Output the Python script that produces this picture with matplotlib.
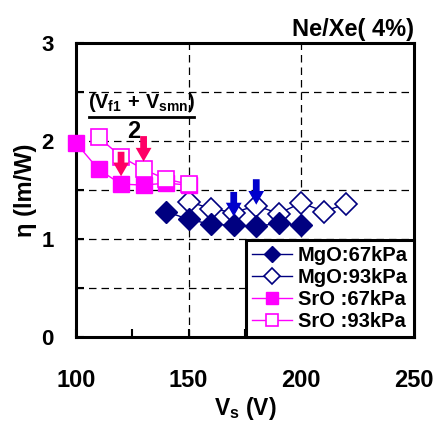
import matplotlib
matplotlib.use('Agg')
import matplotlib.pyplot as plt
from matplotlib.ticker import MultipleLocator

plt.rcParams['font.family'] = ['Liberation Sans', 'DejaVu Sans']
plt.rcParams['font.weight'] = 'bold'
plt.rcParams['mathtext.fontset'] = 'custom'
plt.rcParams['mathtext.rm'] = 'Liberation Sans:bold'
plt.rcParams['mathtext.it'] = 'Liberation Sans:bold'
plt.rcParams['mathtext.bf'] = 'Liberation Sans:bold'

# data
mgo67_vs = [140, 150, 160, 170, 180, 190, 200]
mgo67_eta = [1.28, 1.20, 1.15, 1.14, 1.13, 1.16, 1.14]
mgo93_vs = [150, 160, 170, 180, 190, 200, 210, 220]
mgo93_eta = [1.38, 1.31, 1.27, 1.34, 1.26, 1.37, 1.28, 1.36]
sro67_vs = [100, 110, 120, 130, 140, 150]
sro67_eta = [1.98, 1.71, 1.56, 1.55, 1.57, 1.55]
sro93_vs = [110, 120, 130, 140, 150]
sro93_eta = [2.04, 1.84, 1.71, 1.61, 1.56]

# arrows: (x, top, tip)
sro_arrows = [(120, 1.89, 1.64), (130, 2.05, 1.79)]
mgo_arrows = [(170, 1.48, 1.23), (180, 1.61, 1.35)]

navy = '#000080'
magenta = '#FF00FF'

fig = plt.figure(figsize=(4.35, 4.24), dpi=100)
ax = fig.add_axes([0.1747, 0.2052, 0.777, 0.6934])

h1, = ax.plot(mgo93_vs, mgo93_eta, color=navy, lw=1, marker='D', ms=11.5,
              mfc='white', mec=navy, mew=1.2, zorder=3)
h0, = ax.plot(mgo67_vs, mgo67_eta, color=navy, lw=1, marker='D', ms=11.5,
              mfc=navy, mec=navy, zorder=4)
h2, = ax.plot(sro67_vs, sro67_eta, color=magenta, lw=1, marker='s', ms=12,
              mfc=magenta, mec=magenta, zorder=3, clip_on=False)
h3, = ax.plot(sro93_vs, sro93_eta, color=magenta, lw=1, marker='s', ms=11.5,
              mfc='white', mec=magenta, mew=1.2, zorder=4)

for x, top, tip in sro_arrows:
    ax.arrow(x, top, 0, tip - top, width=3.0, head_width=7.0, head_length=0.14,
             length_includes_head=True, color='#FF0066', lw=0, zorder=5)
for x, top, tip in mgo_arrows:
    ax.arrow(x, top, 0, tip - top, width=3.0, head_width=7.0, head_length=0.14,
             length_includes_head=True, color='#0000CC', lw=0, zorder=5)

# formula annotation
ax.text(129.0, 2.39, r'$(V_{f1}\,+\,V_{smn})$', ha='center', va='center', fontsize=14.3)
ax.plot([105.8, 152.4], [2.245, 2.245], color='black', lw=2, zorder=5)
ax.text(125.7, 2.10, '2', ha='center', va='center', fontsize=17, fontweight='bold')

ax.set_xlim(100, 250)
ax.set_ylim(0, 3)
ax.xaxis.set_major_locator(MultipleLocator(50))
ax.xaxis.set_minor_locator(MultipleLocator(25))
ax.yaxis.set_major_locator(MultipleLocator(1))
ax.yaxis.set_minor_locator(MultipleLocator(0.5))
ax.tick_params(which='both', direction='in', length=6, width=1.5)
ax.tick_params(axis='x', labelsize=17, pad=23)
ax.tick_params(axis='y', labelsize=16, pad=16)
for lab in ax.get_xticklabels() + ax.get_yticklabels():
    lab.set_fontweight('bold')

ax.grid(axis='x', which='major', color='black', lw=0.9, ls=(0, (6, 4)))
ax.grid(axis='y', which='both', color='black', lw=0.9, ls=(0, (6, 4)))
ax.set_axisbelow(True)
for sp in ax.spines.values():
    sp.set_linewidth(2.2)

ax.set_xlabel(r'$V_s$ (V)', fontsize=16.5, fontweight='bold', labelpad=2)
ax.set_ylabel(r'η (lm/W)', fontsize=17, fontweight='bold', labelpad=3)
ax.set_title('Ne/Xe( 4%)', loc='right', fontsize=17, fontweight='bold', pad=5)

leg = ax.legend([h0, h1, h2, h3],
                ['MgO:67kPa', 'MgO:93kPa', 'SrO :67kPa', 'SrO :93kPa'],
                loc='lower right', borderaxespad=0, fancybox=False,
                framealpha=1, edgecolor='black', prop={'size': 14.5, 'weight': 'bold'},
                handlelength=2.0, handletextpad=0.3, labelspacing=0.15,
                borderpad=0.3, markerscale=0.7)
leg.get_frame().set_linewidth(2.2)
leg.set_zorder(10)

fig.savefig('out.png', dpi=100)
